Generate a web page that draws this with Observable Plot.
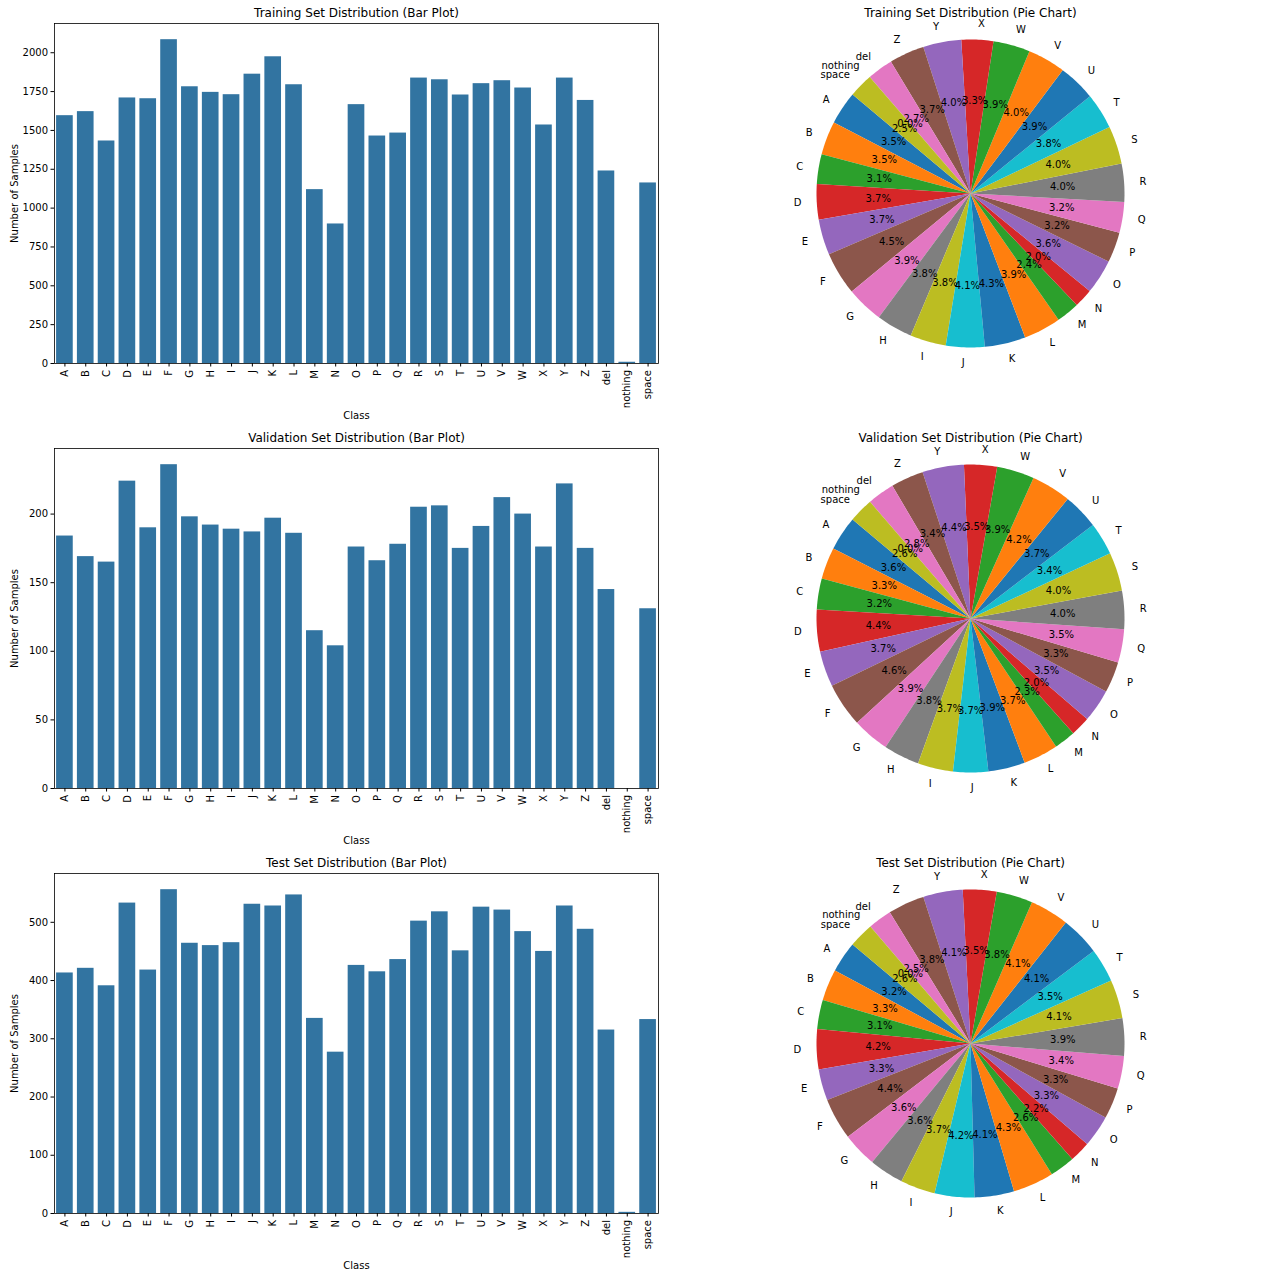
<!DOCTYPE html>
<html><head><meta charset="utf-8">
<script src="https://cdn.jsdelivr.net/npm/d3@7"></script>
<script src="https://cdn.jsdelivr.net/npm/@observablehq/plot@0.6"></script>
<style>
body{margin:0;background:#fff;}
#fig{position:relative;width:1280px;height:1279px;background:#fff;}
#fig > div{position:absolute;}
</style></head><body><div id="fig"></div>
<script>
const classes = ["A","B","C","D","E","F","G","H","I","J","K","L","M","N","O","P","Q","R","S","T","U","V","W","X","Y","Z","del","nothing","space"];
const trainCounts = [1595,1621,1432,1709,1704,2084,1781,1745,1730,1862,1974,1794,1119,898,1666,1464,1483,1837,1826,1728,1801,1820,1773,1535,1837,1693,1239,8,1162];
const valCounts   = [184,169,165,224,190,236,198,192,189,187,197,186,115,104,176,166,178,205,206,175,191,212,200,176,222,175,145,0,131];
const testCounts  = [413,421,391,533,418,556,464,460,465,531,528,547,335,277,426,415,436,502,518,451,526,521,484,450,528,488,315,2,333];
const trainTicks = [0,250,500,750,1000,1250,1500,1750,2000];
const valTicks = [0,50,100,150,200];
const testTicks = [0,100,200,300,400,500];
const barTitles = ["Training Set Distribution (Bar Plot)","Validation Set Distribution (Bar Plot)","Test Set Distribution (Bar Plot)"];
const pieTitles = ["Training Set Distribution (Pie Chart)","Validation Set Distribution (Pie Chart)","Test Set Distribution (Pie Chart)"];
const tab10 = ["#1f77b4","#ff7f0e","#2ca02c","#d62728","#9467bd","#8c564b","#e377c2","#7f7f7f","#bcbd22","#17becf"];
const barColor = "#3274a1";
const FONT = '"DejaVu Sans",sans-serif';

function barChart(counts, ticks, title) {
  const data = classes.map((c,i)=>({cls:c, n:counts[i]}));
  return Plot.plot({
    width: 670, height: 425, marginLeft: 54, marginRight: 12, marginTop: 23, marginBottom: 62,
    style: {fontFamily: FONT, fontSize: "10px", color: "black", background: "white"},
    x: {type: "band", domain: classes, paddingInner: 0.2, paddingOuter: 0.1, round: false},
    y: {domain: [0, d3.max(counts) * 1.05]},
    marks: [
      Plot.barY(data, {x: "cls", y: "n", fill: barColor}),
      Plot.frame({stroke: "black", strokeWidth: 0.8}),
      Plot.axisY({ticks, tickSize: 3.5, tickPadding: 3, tickFormat: d3.format("d"), label: "Number of Samples", labelAnchor: "center", labelArrow: "none", labelOffset: 44, fontSize: 10}),
      Plot.axisX({tickRotate: -90, tickSize: 3.5, tickPadding: 3, label: "Class", labelAnchor: "center", labelArrow: "none", labelOffset: 55, fontSize: 10}),
      Plot.text([title], {text: d => d, frameAnchor: "top", lineAnchor: "middle", dy: -10, fontSize: 12})
    ]
  });
}

function pieChart(counts, title) {
  const total = d3.sum(counts);
  const startAngle = 140;
  let cum = 0;
  const slices = [], pcts = [], labels = [];
  classes.forEach((c, i) => {
    const a0 = startAngle + 360 * cum / total;
    cum += counts[i];
    const a1 = startAngle + 360 * cum / total;
    slices.push({cls: c, x: 0, y: 0});
    const steps = Math.max(2, Math.ceil(a1 - a0));
    for (let k = 0; k <= steps; k++) {
      const a = (a0 + (a1 - a0) * k / steps) * Math.PI / 180;
      slices.push({cls: c, x: Math.cos(a), y: Math.sin(a)});
    }
    const am = (a0 + a1) / 2 * Math.PI / 180;
    pcts.push({x: 0.6 * Math.cos(am), y: 0.6 * Math.sin(am), t: (100 * counts[i] / total).toFixed(1) + "%"});
    labels.push({x: 1.1 * Math.cos(am), y: 1.1 * Math.sin(am), t: c});
  });
  const R = 154, W = 400, H = 425, cx = 200, cy = 193;
  return Plot.plot({
    width: W, height: H, margin: 0,
    style: {fontFamily: FONT, fontSize: "10px", color: "black", background: "white"},
    x: {domain: [-cx / R, (W - cx) / R], axis: null},
    y: {domain: [-(H - cy) / R, cy / R], axis: null},
    color: {domain: classes, range: classes.map((_, i) => tab10[i % 10])},
    marks: [
      Plot.line(slices, {x: "x", y: "y", z: "cls", fill: "cls", stroke: "none", curve: "linear-closed"}),
      Plot.text(labels.filter(d => d.x < 0), {x: "x", y: "y", text: "t", textAnchor: "end", fontSize: 10, fill: "black"}),
      Plot.text(labels.filter(d => d.x >= 0), {x: "x", y: "y", text: "t", textAnchor: "start", fontSize: 10, fill: "black"}),
      Plot.text(pcts, {x: "x", y: "y", text: "t", fontSize: 10, fill: "black"}),
      Plot.text([title], {text: d => d, frameAnchor: "top", lineAnchor: "middle", dy: 13, fontSize: 12, fill: "black"})
    ]
  });
}

const fig = document.getElementById("fig");
const sets = [[trainCounts, trainTicks], [valCounts, valTicks], [testCounts, testTicks]];
sets.forEach(([counts, ticks], r) => {
  const b = document.createElement("div");
  b.style.left = "0px"; b.style.top = (r * 425) + "px";
  b.appendChild(barChart(counts, ticks, barTitles[r]));
  fig.appendChild(b);
  const p = document.createElement("div");
  p.style.left = "770px"; p.style.top = (r * 425) + "px";
  p.appendChild(pieChart(counts, pieTitles[r]));
  fig.appendChild(p);
});
</script></body></html>
